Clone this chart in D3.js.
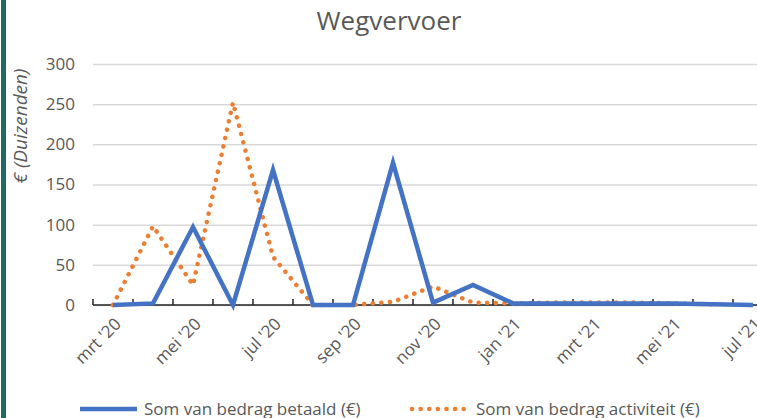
<!DOCTYPE html>
<html>
<head>
<meta charset="utf-8">
<script src="https://cdn.jsdelivr.net/npm/d3@7"></script>
<style>
  body { margin: 0; background: #fff; }
  svg { display: block; font-family: "Open Sans", sans-serif; }
</style>
</head>
<body>
<svg></svg>
<script>
let months = ["mrt '20", "apr '20", "mei '20", "jun '20", "jul '20", "aug '20", "sep '20", "okt '20", "nov '20",
              "dec '20", "jan '21", "feb '21", "mrt '21", "apr '21", "mei '21", "jun '21", "jul '21"]
let betaald = [0, 2, 97, 0, 168, 0, 0, 177, 3, 25, 2, 2, 2, 2, 2, 1, 0]
let activiteit = [0, 98, 25, 252, 60, 0, 0, 4, 23, 3, 2, 3, 3, 3, 2, 1, null]
let yTicks = [0, 50, 100, 150, 200, 250, 300]
let labelMonths = months.filter((m, i) => i % 2 == 0)

let width = 757
let height = 418
let plotLeft = 93
let plotRight = 773
let plotTop = 64
let plotBottom = 305

let svg = d3.select('svg').attr('width', width).attr('height', height)

let xScale = d3.scaleBand().domain(months).range([plotLeft, plotRight]).paddingInner(0).paddingOuter(0)
let yScale = d3.scaleLinear().domain([0, 300]).range([plotBottom, plotTop])
let xc = (m) => xScale(m) + xScale.bandwidth() / 2

// left border
svg.append('rect').attr('x', 1).attr('y', 0).attr('width', 5).attr('height', height).attr('fill', '#1d6b62')

// title
svg.append('text')
    .attr('x', 389).attr('y', 30)
    .attr('text-anchor', 'middle')
    .attr('font-size', 26)
    .attr('fill', '#595959')
    .text('Wegvervoer')

// gridlines + y axis
let yAxis = d3.axisLeft(yScale).tickValues(yTicks).tickSize(-(width - plotLeft)).tickPadding(18)
let gy = svg.append('g').attr('transform', 'translate(' + plotLeft + ',0)').call(yAxis)
gy.select('.domain').remove()
gy.selectAll('.tick line').attr('stroke', '#d9d9d9').attr('stroke-width', 1.5)
gy.selectAll('.tick text').attr('font-size', 17).attr('fill', '#595959').attr('font-family', '"Open Sans", sans-serif')

svg.append('text')
    .attr('transform', 'translate(27,126) rotate(-90)')
    .attr('text-anchor', 'middle')
    .attr('font-size', 19)
    .attr('font-style', 'italic')
    .attr('fill', '#595959')
    .text('€ (Duizenden)')

// x axis line and tick marks
svg.append('line')
    .attr('x1', plotLeft).attr('x2', width)
    .attr('y1', plotBottom).attr('y2', plotBottom)
    .attr('stroke', '#222').attr('stroke-width', 1.5)

svg.selectAll('.xtick')
    .data(months)
    .enter()
    .append('line')
    .attr('class', 'xtick')
    .attr('x1', (m) => xScale(m)).attr('x2', (m) => xScale(m))
    .attr('y1', plotBottom).attr('y2', plotBottom - 6)
    .attr('stroke', '#222').attr('stroke-width', 1.5)

let xAxis = d3.axisBottom(xScale).tickValues(labelMonths).tickSize(0)
let gx = svg.append('g').attr('transform', 'translate(0,' + plotBottom + ')').call(xAxis)
gx.select('.domain').remove()
gx.selectAll('.tick text')
    .attr('font-size', 17)
    .attr('fill', '#595959')
    .attr('font-family', '"Open Sans", sans-serif')
    .attr('text-anchor', 'end')
    .attr('dy', 0)
    .attr('transform', 'translate(7,18) rotate(-45)')

// lines
let line = d3.line()
    .defined((d) => d[1] != null)
    .x((d) => xc(d[0]))
    .y((d) => yScale(d[1]))

svg.append('path')
    .datum(months.map((m, i) => [m, activiteit[i]]))
    .attr('d', line)
    .attr('fill', 'none')
    .attr('stroke', '#ed7d31')
    .attr('stroke-width', 4.5)
    .attr('stroke-linecap', 'round')
    .attr('stroke-dasharray', '0.1 8.5')

svg.append('path')
    .datum(months.map((m, i) => [m, betaald[i]]))
    .attr('d', line)
    .attr('fill', 'none')
    .attr('stroke', '#4472c4')
    .attr('stroke-width', 4.5)
    .attr('stroke-linejoin', 'miter')

// legend
let legend = [
    {name: 'Som van bedrag betaald (€)', color: '#4472c4', x: 80, dash: null},
    {name: 'Som van bedrag activiteit (€)', color: '#ed7d31', x: 412, dash: '0.1 8.5'}
]
let lg = svg.selectAll('.legend').data(legend).enter().append('g').attr('class', 'legend')
lg.append('line')
    .attr('x1', (d) => d.x).attr('x2', (d) => d.x + 57)
    .attr('y1', 409).attr('y2', 409)
    .attr('stroke', (d) => d.color)
    .attr('stroke-width', (d) => d.dash ? 4.5 : 4.5)
    .attr('stroke-linecap', (d) => d.dash ? 'round' : 'butt')
    .attr('stroke-dasharray', (d) => d.dash)
lg.append('text')
    .attr('x', (d) => d.x + 64).attr('y', 415)
    .attr('font-size', 17)
    .attr('fill', '#595959')
    .text((d) => d.name)
</script>
</body>
</html>
